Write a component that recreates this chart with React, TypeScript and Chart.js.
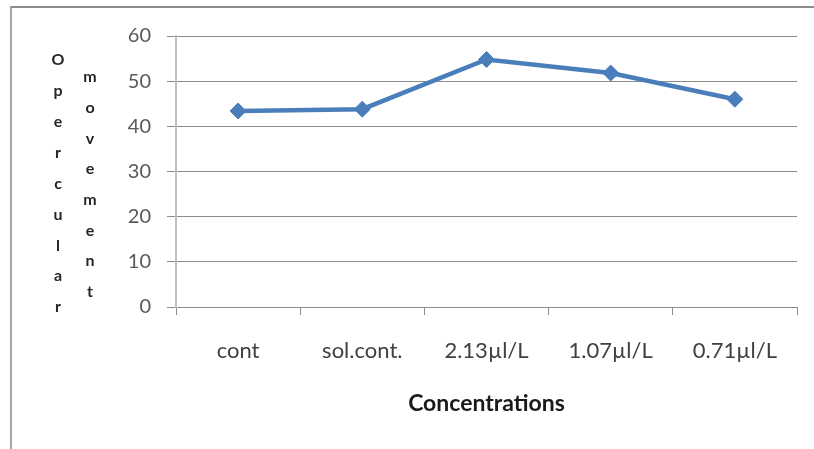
import React, { useEffect, useRef } from "react";
import { Chart, registerables } from "chart.js";

Chart.register(...registerables);

const categories = ["cont", "sol.cont.", "2.13µl/L", "1.07µl/L", "0.71µl/L"];
const values = [43.4, 43.8, 54.8, 51.8, 46.0];
const yTicks = [0, 10, 20, 30, 40, 50, 60];
const yTitleCol1 = "Opercular";
const yTitleCol2 = "movement";
const xTitle = "Concentrations";

const stackedTitle = {
  id: "stackedTitle",
  afterDraw(chart: any) {
    const ctx = chart.ctx;
    ctx.save();
    ctx.font = "bold 16px Lato";
    ctx.fillStyle = "#262626";
    ctx.textAlign = "center";
    ctx.textBaseline = "middle";
    yTitleCol1.split("").forEach((ch, i) => {
      ctx.fillText(ch, 58, 60 + i * 30.9);
    });
    yTitleCol2.split("").forEach((ch, i) => {
      ctx.fillText(ch, 90, 77 + i * 30.7);
    });
    ctx.restore();
  },
};

export default function App() {
  const ref = useRef<HTMLCanvasElement>(null);
  useEffect(() => {
    if (!ref.current) return;
    const chart = new Chart(ref.current, {
      type: "line",
      data: {
        labels: categories,
        datasets: [
          {
            data: values,
            borderColor: "#4A7EBB",
            backgroundColor: "#4A7EBB",
            borderWidth: 4.5,
            pointStyle: "rectRot",
            pointRadius: 8,
            pointBorderWidth: 1,
            tension: 0,
          },
        ],
      },
      options: {
        animation: false,
        responsive: false,
        layout: { padding: { left: 0, top: 36, right: 17, bottom: 32 } },
        plugins: { legend: { display: false }, tooltip: { enabled: false } },
        scales: {
          x: {
            type: "category",
            offset: true,
            grid: {
              offset: true,
              drawOnChartArea: false,
              drawTicks: true,
              tickLength: 8,
              color: "#8c8c8c",
            },
            border: { color: "#8c8c8c", width: 1 },
            ticks: {
              padding: 23,
              color: "#404040",
              font: { family: "Lato", size: 22 },
              maxRotation: 0,
              autoSkip: false,
            },
            title: {
              display: true,
              text: xTitle,
              color: "#1a1a1a",
              font: { family: "Lato", size: 23, weight: "bold" },
              padding: 0,
            },
            afterFit: (s: any) => {
              s.height = 110;
            },
          },
          y: {
            min: 0,
            max: 60,
            afterBuildTicks: (s: any) => {
              s.ticks = yTicks.map((v) => ({ value: v }));
            },
            grid: { color: "#8c8c8c", lineWidth: 1, tickLength: 9 },
            border: { color: "#c0c0c0", width: 2 },
            ticks: {
              padding: 16,
              color: "#595959",
              font: { family: "Lato", size: 20 },
            },
            afterFit: (s: any) => {
              s.width = 176;
            },
          },
        },
      },
      plugins: [stackedTitle],
    });
    return () => chart.destroy();
  }, []);
  return (
    <div style={{ position: "absolute", left: 0, top: 0, width: 814, height: 449, background: "#fff" }}>
      <div
        style={{
          position: "absolute",
          left: 10,
          top: 6,
          width: 804,
          height: 443,
          borderTop: "2px solid #8c8c8c",
          borderLeft: "2px solid #a6a6a6",
          boxSizing: "border-box",
        }}
      />
      <canvas ref={ref} width={814} height={449} style={{ position: "absolute", left: 0, top: 0 }} />
    </div>
  );
}
